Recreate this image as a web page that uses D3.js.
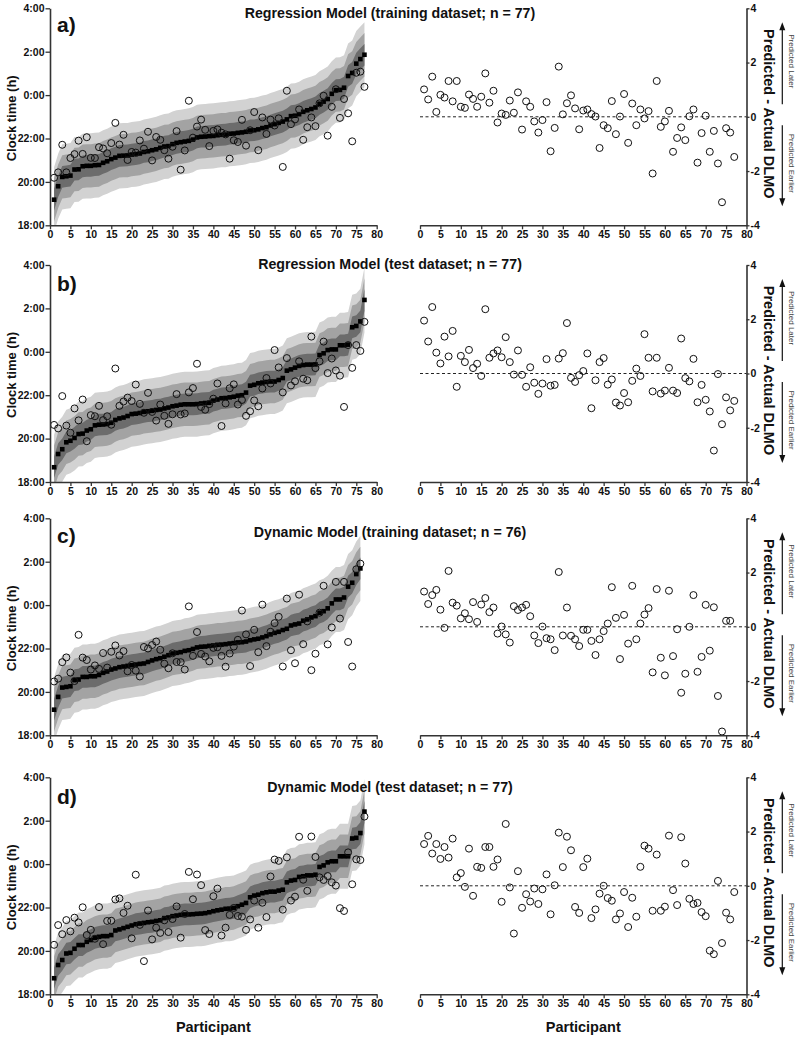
<!DOCTYPE html>
<html><head><meta charset="utf-8">
<script src="https://cdn.jsdelivr.net/npm/d3@7"></script>
<style>
body{margin:0;background:#fff;}
svg{display:block;font-family:"Liberation Sans",Arial,sans-serif;}
.ax .domain{stroke:#333;stroke-width:1.6;}
.ax line{stroke:#333;stroke-width:1.3;}
.ax text{font-size:10.5px;font-weight:bold;fill:#111;font-family:"Liberation Sans",Arial,sans-serif;}
</style></head>
<body>
<script>
// ---------------- data ----------------
const titles = ["Regression Model (training dataset; n = 77)","Regression Model (test dataset; n = 77)","Dynamic Model (training dataset; n = 76)","Dynamic Model (test dataset; n = 77)"];
const panelLabels = ["a)","b)","c)","d)"];
const clockTicks = [18,20,22,24,26,28];
const clockTickLabels = ["18:00","20:00","22:00","0:00","2:00","4:00"];
const diffTicks = [-4,-2,0,2,4];
const diffTickLabels = ["-4","-2","0","2","4"];
const participantTicks = [0,5,10,15,20,25,30,35,40,45,50,55,60,65,70,75,80];
const bandHalfWidths = [1.5,1.0,0.5];

// actual DLMO (hours, 24 = 0:00), sorted; and predicted - actual (h)
const actualA = [19.18,19.80,20.23,20.26,20.29,20.57,20.58,20.72,20.74,20.74,20.77,20.78,20.88,20.95,21.05,21.12,21.20,21.21,21.22,21.26,21.28,21.31,21.38,21.41,21.46,21.50,21.57,21.63,21.65,21.74,21.80,21.83,21.86,21.89,21.95,22.05,22.08,22.09,22.11,22.12,22.15,22.17,22.18,22.22,22.23,22.26,22.28,22.31,22.37,22.38,22.42,22.48,22.52,22.60,22.66,22.72,22.78,22.88,23.03,23.05,23.12,23.23,23.30,23.36,23.43,23.60,23.70,23.82,24.06,24.23,24.24,24.34,24.88,25.02,25.45,25.66,25.86];
const diffA = [1.01,0.64,1.48,0.18,0.81,0.71,1.32,0.57,1.32,0.37,0.33,0.82,0.66,0.37,0.74,1.60,0.52,0.96,-0.21,0.12,0.07,0.60,0.15,0.90,-0.47,0.57,0.37,-0.17,-0.58,-0.12,0.54,-1.27,-0.41,1.85,0.09,0.50,0.79,0.31,-0.46,0.23,0.27,0.10,0.01,-1.15,-0.31,-0.42,0.58,-0.64,0.01,0.84,-0.96,0.49,-0.31,0.27,-0.06,0.21,-2.09,1.32,-0.37,-0.17,0.22,-1.29,-0.78,-0.39,-0.86,0.02,0.27,-1.69,-0.60,0.04,-1.29,-0.52,-1.72,-3.15,-0.42,-0.58,-1.48];

const actualB = [18.68,19.29,19.51,19.83,19.90,20.03,20.21,20.23,20.37,20.43,20.61,20.64,20.65,20.67,20.73,20.86,20.93,20.97,21.04,21.13,21.15,21.18,21.23,21.26,21.28,21.32,21.34,21.39,21.43,21.49,21.52,21.56,21.58,21.58,21.58,21.59,21.62,21.64,21.65,21.75,21.80,21.86,21.87,21.90,21.93,21.98,22.00,22.12,22.44,22.48,22.55,22.58,22.61,22.63,22.63,22.70,22.79,23.13,23.19,23.27,23.35,23.39,23.41,23.41,23.42,23.85,23.93,24.08,24.11,24.11,24.30,24.30,24.33,25.13,25.19,25.40,26.39];
const diffB = [1.95,1.18,2.45,0.77,0.37,1.36,0.63,1.57,-0.49,0.65,0.42,0.87,0.20,0.36,-0.09,2.37,0.58,0.74,0.85,0.60,1.34,0.42,-0.04,0.85,-0.05,-0.49,0.23,-0.34,-0.75,-0.37,0.53,-0.45,-0.42,0.55,0.75,1.86,-0.16,-0.31,-0.06,0.09,0.74,-1.28,-0.25,0.42,0.57,-0.41,-0.22,-1.07,-1.18,-0.72,-1.06,-0.27,0.18,-0.09,1.45,0.58,-0.66,0.58,-0.74,-0.63,0.21,-0.63,-0.72,1.29,-0.17,-0.29,0.54,-1.06,-0.42,-0.97,-1.40,-2.84,-0.02,-1.87,-0.88,-1.36,-1.01];

const actualC = [19.18,19.77,20.20,20.23,20.26,20.54,20.57,20.69,20.69,20.72,20.72,20.78,20.88,20.94,21.03,21.08,21.14,21.17,21.20,21.23,21.26,21.29,21.31,21.38,21.45,21.51,21.55,21.62,21.69,21.77,21.80,21.83,21.89,21.92,21.98,22.05,22.08,22.09,22.12,22.14,22.17,22.18,22.20,22.23,22.25,22.28,22.29,22.32,22.38,22.42,22.45,22.51,22.57,22.65,22.72,22.77,22.85,22.91,23.06,23.11,23.15,23.28,23.34,23.43,23.49,23.65,23.72,23.85,24.08,24.26,24.26,24.35,24.85,25.03,25.43,25.69];
const diffC = [1.30,0.84,1.17,1.36,0.63,-0.04,2.06,0.89,0.78,0.31,0.50,0.28,0.91,0.18,0.82,1.06,0.54,0.71,-0.25,0.01,-0.28,-0.58,0.76,0.62,0.71,0.81,0.39,-0.32,-0.60,0.01,-0.42,-0.46,-0.86,2.02,-0.32,0.71,-0.33,-0.46,-0.71,-0.11,-0.11,-0.52,-1.04,-0.46,-0.16,0.12,1.46,0.33,-1.19,0.44,-0.62,1.51,-0.46,0.12,0.45,0.69,-1.68,1.39,-1.14,-1.79,1.33,-1.08,-0.09,-2.43,-1.73,0.00,1.17,-1.66,-1.11,0.81,-0.88,0.72,-2.55,-3.86,0.22,0.22];

const actualD = [18.74,19.35,19.58,19.88,19.91,20.10,20.27,20.27,20.42,20.50,20.60,20.65,20.68,20.68,20.73,20.94,20.99,21.05,21.11,21.17,21.23,21.26,21.29,21.32,21.34,21.38,21.41,21.51,21.54,21.60,21.63,21.66,21.68,21.68,21.69,21.71,21.72,21.74,21.78,21.83,21.87,21.90,21.94,21.95,21.98,22.06,22.13,22.21,22.47,22.55,22.59,22.66,22.70,22.73,22.73,22.78,22.82,23.16,23.24,23.27,23.41,23.44,23.48,23.48,23.51,23.87,23.94,24.08,24.13,24.13,24.36,24.36,24.36,25.18,25.21,25.43,26.42];
const diffD = [1.54,1.84,1.19,1.54,0.99,1.43,1.04,1.74,0.31,0.47,-0.04,1.37,-0.37,0.70,0.66,1.43,1.43,0.70,0.97,-0.59,2.28,-0.06,-1.76,0.54,-0.81,-0.31,-0.58,-0.10,-0.67,-0.13,0.42,-1.05,0.02,1.96,0.69,1.81,1.31,-0.78,-1.00,0.69,1.00,-1.19,-0.87,-0.29,0.00,-0.45,-0.55,-1.24,-1.02,-0.23,-1.52,-0.44,-1.14,0.70,1.48,1.37,-0.92,1.15,-0.92,-0.77,1.85,-0.16,-0.71,1.79,0.82,-0.48,-0.67,-0.63,-0.97,-1.12,-2.39,-2.52,0.18,-2.11,-0.99,-1.24,-0.23];

// ---------------- layout ----------------
const W = 797, H = 1038;
const panelTops = [8.3, 265, 518.3, 777.3];
const panelH = 217;
const titleY = [18.3, 269, 536.7, 791.7];
const labelY = [32, 291, 543, 804];
const bandColors = ["#d2d2d2", "#a3a3a3", "#6c6c6c"];

const svg = d3.select("body").append("svg").attr("width", W).attr("height", H);
const xL = d3.scaleLinear().domain([0, 80]).range([50, 376.7]);
const xR = d3.scaleLinear().domain([0, 80]).range([420, 746.5]);

const panels = [
  {actual: actualA, diff: diffA},
  {actual: actualB, diff: diffB},
  {actual: actualC, diff: diffC},
  {actual: actualD, diff: diffD}
];

panels.forEach((p, k) => {
  const T = panelTops[k], B = T + panelH;
  const yL = d3.scaleLinear().domain([18, 28]).range([B, T]);
  const yR = d3.scaleLinear().domain([-4, 4]).range([B, T]);
  const rows = p.actual.map((a, i) => ({i: i + 1, a: a, d: p.diff[i], pred: a + p.diff[i]}));
  const g = svg.append("g");

  // clip
  const cid = "clip" + k;
  svg.append("clipPath").attr("id", cid).append("rect")
    .attr("x", xL(0)).attr("y", T).attr("width", xL(80) - xL(0)).attr("height", panelH);
  const gc = g.append("g").attr("clip-path", `url(#${cid})`);

  bandHalfWidths.forEach((w, j) => {
    gc.append("path").datum(rows)
      .attr("fill", bandColors[j])
      .attr("d", d3.area().x(d => xL(d.i)).y0(d => yL(d.a - w)).y1(d => yL(d.a + w)));
  });
  const sq = 4.6;
  gc.selectAll("rect.sq").data(rows).join("rect").attr("class", "sq")
    .attr("x", d => xL(d.i) - sq / 2).attr("y", d => yL(d.a) - sq / 2)
    .attr("width", sq).attr("height", sq).attr("fill", "#000");
  gc.selectAll("circle").data(rows).join("circle")
    .attr("cx", d => xL(d.i)).attr("cy", d => yL(d.pred)).attr("r", 3.5)
    .attr("fill", "none").attr("stroke", "#111").attr("stroke-width", 1);

  // left axes
  g.append("g").attr("class", "ax").attr("transform", `translate(${xL(0)},0)`)
    .call(d3.axisLeft(yL).tickValues(clockTicks).tickFormat((d, i) => clockTickLabels[i]).tickSize(4.5).tickPadding(1).tickSizeOuter(0));
  g.append("g").attr("class", "ax").attr("transform", `translate(0,${B})`)
    .call(d3.axisBottom(xL).tickValues(participantTicks).tickFormat(d3.format("d")).tickSize(4).tickPadding(1.5).tickSizeOuter(0));

  // right plot
  g.append("line").attr("x1", xR(0)).attr("x2", xR(80)).attr("y1", yR(0)).attr("y2", yR(0))
    .attr("stroke", "#222").attr("stroke-width", 1).attr("stroke-dasharray", "3,2.5");
  g.selectAll("circle.df").data(rows).join("circle").attr("class", "df")
    .attr("cx", d => xR(d.i)).attr("cy", d => yR(d.d)).attr("r", 3.5)
    .attr("fill", "none").attr("stroke", "#111").attr("stroke-width", 1);
  g.append("g").attr("class", "ax").attr("transform", `translate(${xR(80)},0)`)
    .call(d3.axisRight(yR).tickValues(diffTicks).tickFormat((d, i) => diffTickLabels[i]).tickSize(3).tickPadding(1).tickSizeOuter(0));
  g.append("g").attr("class", "ax").attr("transform", `translate(0,${B})`)
    .call(d3.axisBottom(xR).tickValues(participantTicks).tickFormat(d3.format("d")).tickSize(4).tickPadding(1.5).tickSizeOuter(0));

  // titles & labels
  g.append("text").attr("x", 390).attr("y", titleY[k]).attr("text-anchor", "middle")
    .attr("font-size", 14.2).attr("font-weight", "bold").attr("fill", "#111").text(titles[k]);
  g.append("text").attr("x", 57).attr("y", labelY[k])
    .attr("font-size", 21).attr("font-weight", "bold").attr("fill", "#111").text(panelLabels[k]);
  g.append("text").attr("transform", `translate(11,${T + 110}) rotate(-90)`).attr("dy", "0.35em")
    .attr("text-anchor", "middle").attr("font-size", 13).attr("font-weight", "bold").attr("fill", "#111")
    .text("Clock time (h)");
  g.append("text").attr("transform", `translate(769,${yR(0) - 3}) rotate(90)`).attr("dy", "0.35em")
    .attr("text-anchor", "middle").attr("font-size", 14.5).attr("font-weight", "bold").attr("fill", "#111")
    .text("Predicted - Actual DLMO");
  g.append("text").attr("transform", `translate(792,${T + 53}) rotate(90)`).attr("dy", "0.35em")
    .attr("text-anchor", "middle").attr("font-size", 8).attr("fill", "#444").text("Predicted Later");
  g.append("text").attr("transform", `translate(792,${T + 155}) rotate(90)`).attr("dy", "0.35em")
    .attr("text-anchor", "middle").attr("font-size", 8).attr("fill", "#444").text("Predicted Earlier");

  // arrows
  const ax = 782.3;
  g.append("line").attr("x1", ax).attr("x2", ax).attr("y1", T + 20).attr("y2", T + 96).attr("stroke", "#111").attr("stroke-width", 1.2);
  g.append("path").attr("d", `M${ax},${T + 14} L${ax - 3},${T + 22} L${ax + 3},${T + 22} Z`).attr("fill", "#111");
  g.append("line").attr("x1", ax).attr("x2", ax).attr("y1", T + 117).attr("y2", T + 192).attr("stroke", "#111").attr("stroke-width", 1.2);
  g.append("path").attr("d", `M${ax},${T + 198} L${ax - 3},${T + 190} L${ax + 3},${T + 190} Z`).attr("fill", "#111");
});

// x-axis titles
svg.append("text").attr("x", (xL(0) + xL(80)) / 2).attr("y", 1032).attr("text-anchor", "middle")
  .attr("font-size", 14.5).attr("font-weight", "bold").attr("fill", "#111").text("Participant");
svg.append("text").attr("x", (xR(0) + xR(80)) / 2).attr("y", 1032).attr("text-anchor", "middle")
  .attr("font-size", 14.5).attr("font-weight", "bold").attr("fill", "#111").text("Participant");
</script>
</body></html>
